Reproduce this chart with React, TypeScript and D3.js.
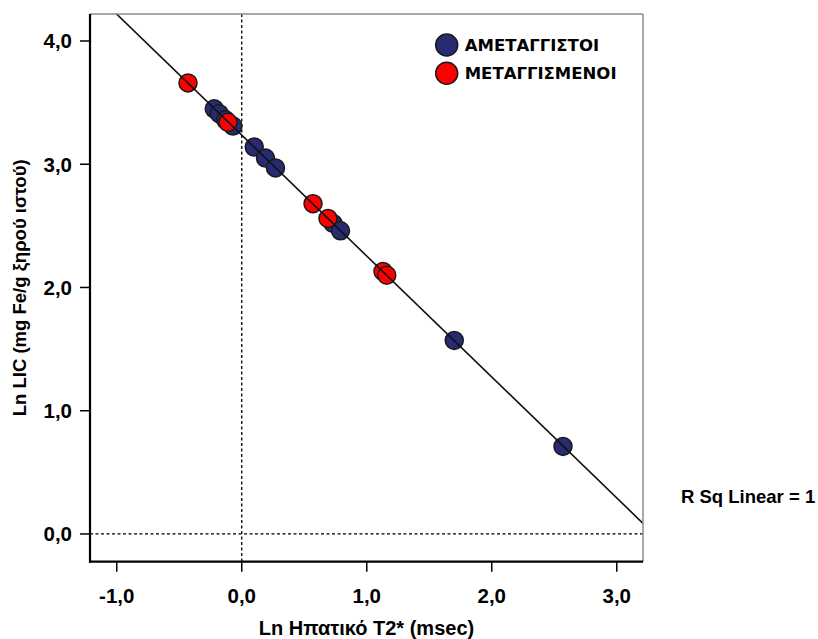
import React from "react";
import * as d3 from "d3";

// Ln T2* (x) and Ln LIC (y) per group
const untransfusedX = [-0.22, -0.18, -0.13, -0.07, 0.1, 0.19, 0.27, 0.73, 0.79, 1.7, 2.57];
const untransfusedY = [3.45, 3.41, 3.36, 3.31, 3.14, 3.05, 2.97, 2.52, 2.46, 1.57, 0.71];
const transfusedX = [-0.43, -0.11, 0.57, 0.69, 1.13, 1.16];
const transfusedY = [3.66, 3.34, 2.68, 2.56, 2.13, 2.1];

const xTicks = [-1, 0, 1, 2, 3];
const yTicks = [0, 1, 2, 3, 4];
const legendLabels = ["ΑΜΕΤΑΓΓΙΣΤΟΙ", "ΜΕΤΑΓΓΙΣΜΕΝΟΙ"];
const seriesColors = ["#262b72", "#ff0000"];

const W = 818;
const H = 639;
const plot = { left: 90, right: 643, top: 14, bottom: 561.7 };

const fmt = (v: number) => v.toFixed(1).replace(".", ",");

export default function App() {
  const x = d3.scaleLinear().domain([-1.214, 3.21]).range([plot.left, plot.right]);
  const y = d3.scaleLinear().domain([-0.225, 4.219]).range([plot.bottom, plot.top]);

  const groups = [
    { xs: untransfusedX, ys: untransfusedY, color: seriesColors[0] },
    { xs: transfusedX, ys: transfusedY, color: seriesColors[1] },
  ];

  // least-squares fit over all cases
  const allX = [...untransfusedX, ...transfusedX];
  const allY = [...untransfusedY, ...transfusedY];
  const mx = d3.mean(allX) as number;
  const my = d3.mean(allY) as number;
  const sxy = d3.sum(allX.map((v, i) => (v - mx) * (allY[i] - my)));
  const sxx = d3.sum(allX.map((v) => (v - mx) * (v - mx)));
  const slope = sxy / sxx;
  const intercept = my - slope * mx;
  const [x0, x1] = x.domain();
  const fitLine = d3.line<number>()
    .x((d) => x(d))
    .y((d) => y(intercept + slope * d))([x0, x1]) as string;

  const font = "'Liberation Sans', Arial, sans-serif";

  return (
    <svg width={W} height={H} style={{ position: "absolute", left: 0, top: 0, background: "#fff" }}>
      <defs>
        <clipPath id="plotArea">
          <rect x={plot.left} y={plot.top} width={plot.right - plot.left} height={plot.bottom - plot.top} />
        </clipPath>
      </defs>
      <rect x={0} y={0} width={W} height={H} fill="#fff" />

      {/* reference lines at zero */}
      <line x1={x(0)} x2={x(0)} y1={plot.top} y2={plot.bottom} stroke="#000" strokeWidth={1.3} strokeDasharray="3,2.5" />
      <line x1={plot.left} x2={plot.right} y1={y(0)} y2={y(0)} stroke="#000" strokeWidth={1.3} strokeDasharray="3,2.5" />

      {/* points */}
      <g clipPath="url(#plotArea)">
        {groups.map((g, gi) =>
          g.xs.map((v, i) => (
            <circle key={`${gi}-${i}`} cx={x(v)} cy={y(g.ys[i])} r={9} fill={g.color} stroke="#1a1a1a" strokeWidth={1.5} />
          ))
        )}
        <path d={fitLine} stroke="#111" strokeWidth={1.6} fill="none" />
      </g>

      {/* frame */}
      <line x1={plot.left} x2={plot.right} y1={plot.top} y2={plot.top} stroke="#8c8c8c" strokeWidth={1.5} />
      <line x1={plot.right} x2={plot.right} y1={plot.top} y2={plot.bottom} stroke="#8c8c8c" strokeWidth={1.5} />
      <line x1={plot.left} x2={plot.left} y1={plot.top} y2={plot.bottom + 1} stroke="#000" strokeWidth={2.2} />
      <line x1={plot.left - 1} x2={plot.right} y1={plot.bottom} y2={plot.bottom} stroke="#000" strokeWidth={2.2} />

      {/* y axis */}
      {yTicks.map((t) => (
        <g key={`y${t}`}>
          <line x1={plot.left - 10} x2={plot.left} y1={y(t)} y2={y(t)} stroke="#000" strokeWidth={1.5} />
          <text x={72} y={y(t)} dy="0.36em" textAnchor="end" fontFamily={font} fontWeight="bold" fontSize={20.5} fill="#000">
            {fmt(t)}
          </text>
        </g>
      ))}

      {/* x axis */}
      {xTicks.map((t) => (
        <g key={`x${t}`}>
          <line x1={x(t)} x2={x(t)} y1={plot.bottom} y2={plot.bottom + 10} stroke="#000" strokeWidth={1.5} />
          <text x={x(t)} y={603} textAnchor="middle" fontFamily={font} fontWeight="bold" fontSize={20.5} fill="#000">
            {fmt(t)}
          </text>
        </g>
      ))}

      <text x={(plot.left + plot.right) / 2} y={635} textAnchor="middle" fontFamily={font} fontWeight="bold" fontSize={20} fill="#000">
        Ln Ηπατικό T2* (msec)
      </text>
      <text transform={`translate(26, ${(plot.top + plot.bottom) / 2}) rotate(-90)`} textAnchor="middle" fontFamily={font} fontWeight="bold" fontSize={18.5} fill="#000">
        Ln LIC (mg Fe/g ξηρού ιστού)
      </text>

      {/* legend */}
      {legendLabels.map((lab, i) => (
        <g key={lab} transform={`translate(446.7, ${45 + i * 28.3})`}>
          <circle r={11} fill={seriesColors[i]} stroke="#1a1a1a" strokeWidth={1.5} />
          <text x={18} dy="0.36em" fontFamily="'DejaVu Sans', Verdana, sans-serif" fontWeight="bold" fontSize={16.5} fill="#000">
            {lab}
          </text>
        </g>
      ))}

      <text x={681} y={503} fontFamily={font} fontWeight="bold" fontSize={18.5} fill="#000">
        R Sq Linear = 1
      </text>
    </svg>
  );
}
